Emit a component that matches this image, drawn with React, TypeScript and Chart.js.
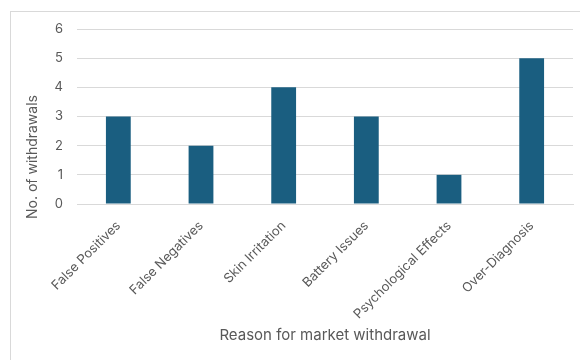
import React, { useEffect, useRef } from "react";
import { Chart, registerables } from "chart.js";

Chart.register(...registerables);

const categories = [
  "False Positives",
  "False Negatives",
  "Skin Irritation",
  "Battery Issues",
  "Psychological Effects",
  "Over-Diagnosis",
];
const withdrawals = [3, 2, 4, 3, 1, 5];
const yTicks = [0, 1, 2, 3, 4, 5, 6];
const xTitle = "Reason for market withdrawal";
const yTitle = "No. of withdrawals";

const FONT = "Inter, 'Noto Sans', sans-serif";
const TEXT = "#595959";
const GRID = "#d9d9d9";

const yTitlePlugin = {
  id: "yTitle",
  afterDraw(chart: any) {
    const ctx = chart.ctx;
    ctx.save();
    ctx.translate(33, 157);
    ctx.rotate(-Math.PI / 2);
    ctx.fillStyle = TEXT;
    ctx.font = `14px ${FONT}`;
    ctx.textAlign = "center";
    ctx.textBaseline = "middle";
    ctx.fillText(yTitle, 0, 0);
    ctx.restore();
  },
};

export default function App() {
  const ref = useRef<HTMLCanvasElement | null>(null);
  useEffect(() => {
    if (!ref.current) return;
    const chart = new Chart(ref.current, {
      type: "bar",
      data: {
        labels: categories,
        datasets: [
          {
            data: withdrawals,
            backgroundColor: "#1a5e80",
            categoryPercentage: 1,
            barPercentage: 0.3,
          },
        ],
      },
      plugins: [yTitlePlugin],
      options: {
        responsive: false,
        animation: false,
        devicePixelRatio: 1,
        layout: { padding: { top: 29, right: 7, bottom: 0, left: 0 } },
        plugins: { legend: { display: false }, tooltip: { enabled: false } },
        scales: {
          x: {
            grid: { display: false },
            border: { display: true, color: GRID, width: 1 },
            ticks: {
              color: TEXT,
              font: { family: FONT, size: 13 },
              minRotation: 45,
              maxRotation: 45,
              padding: 6,
              autoSkip: false,
            },
            title: {
              display: true,
              text: xTitle,
              color: TEXT,
              font: { family: FONT, size: 15 },
              padding: { top: 0, bottom: 16 },
            },
            afterFit: (s: any) => {
              s.height = 156;
            },
          },
          y: {
            min: 0,
            max: 6,
            afterBuildTicks: (s: any) => {
              s.ticks = yTicks.map((v) => ({ value: v }));
            },
            grid: { color: GRID, lineWidth: 1, drawTicks: false },
            border: { display: false },
            ticks: {
              color: TEXT,
              font: { family: FONT, size: 13 },
              padding: 14,
            },
            title: { display: false },
            afterFit: (s: any) => {
              s.width = 77;
            },
          },
        },
      },
    });
    return () => chart.destroy();
  }, []);
  return (
    <div style={{ position: "fixed", left: 0, top: 0, width: 580, height: 360, background: "#fff", overflow: "hidden" }}>
      <div
        style={{
          position: "absolute",
          left: 10,
          top: 11,
          width: 620,
          height: 400,
          border: `1px solid ${GRID}`,
          boxSizing: "border-box",
        }}
      />
      <canvas ref={ref} width={580} height={360} style={{ position: "absolute", left: 0, top: 0, width: 580, height: 360 }} />
    </div>
  );
}
